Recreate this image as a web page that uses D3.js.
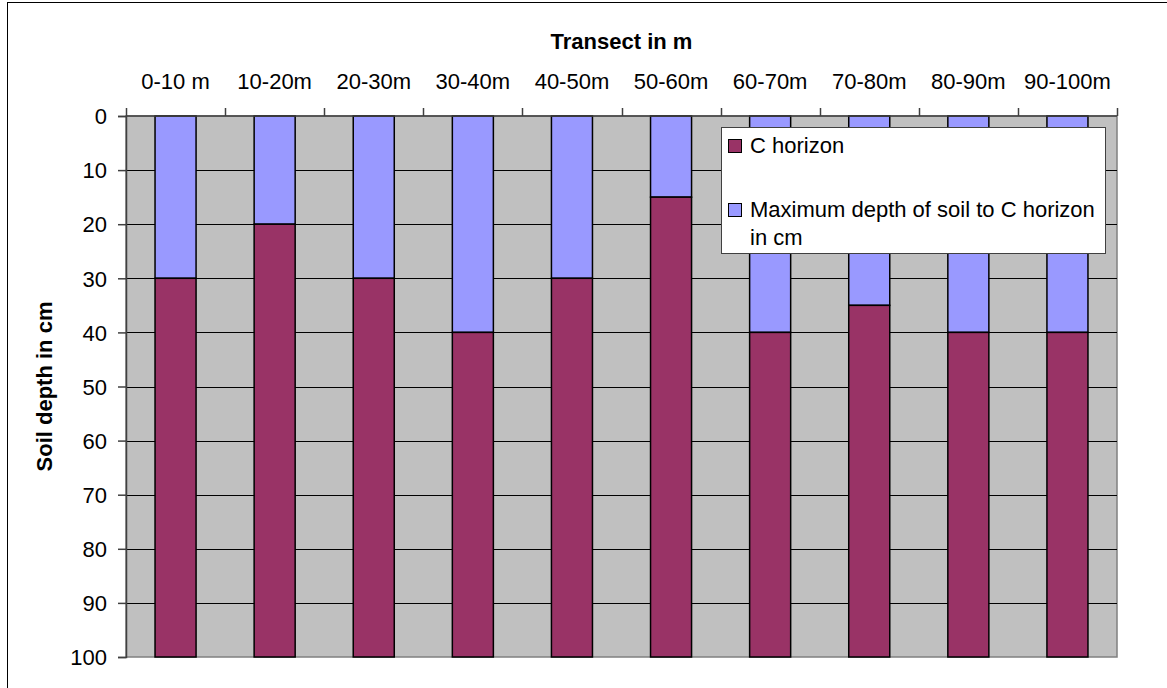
<!DOCTYPE html>
<html>
<head>
<meta charset="utf-8">
<script src="https://cdn.jsdelivr.net/npm/d3@7"></script>
<style>
  html, body { margin: 0; padding: 0; background: #fff; }
  svg { display: block; }
  text { font-family: "Liberation Sans", Arial, sans-serif; fill: #000; }
</style>
</head>
<body>
<svg id="chart" width="1167" height="688"></svg>
<script>
// Transect segments along the slope
const segments = ["0-10 m", "10-20m", "20-30m", "30-40m", "40-50m", "50-60m", "60-70m", "70-80m", "80-90m", "90-100m"];
// Depth (cm) at which the C horizon begins in each segment
const soilDepth = [30, 20, 30, 40, 30, 15, 40, 35, 40, 40];
// Bottom of the profile (cm)
const profileBottom = [100, 100, 100, 100, 100, 100, 100, 100, 100, 100];
const depthTicks = [0, 10, 20, 30, 40, 50, 60, 70, 80, 90, 100];
const seriesNames = ["C horizon", "Maximum depth of soil to C horizon", "in cm"];

const colBlue = "#9999ff", colMaroon = "#993366";
const fs = 22;

const svg = d3.select("#chart");
const plot = { left: 126, right: 1117, top: 116, bottom: 657 };

// outer frame
svg.append("rect").attr("x", 7.5).attr("y", 2.5).attr("width", 1200).attr("height", 800)
  .attr("fill", "none").attr("stroke", "#000").attr("stroke-width", 1);

const x = d3.scaleBand().domain(segments).range([plot.left, plot.right]).paddingInner(0.586).paddingOuter(0.293);
const band = d3.scaleBand().domain(segments).range([plot.left, plot.right]);
const y = d3.scaleLinear().domain([0, 100]).range([plot.top, plot.bottom]);

// plot background
svg.append("rect").attr("x", plot.left).attr("y", plot.top)
  .attr("width", plot.right - plot.left).attr("height", plot.bottom - plot.top)
  .attr("fill", "#c0c0c0").attr("stroke", "#808080").attr("stroke-width", 1.5);

// horizontal gridlines
svg.append("g").selectAll("line").data(depthTicks.slice(1, -1)).join("line")
  .attr("x1", plot.left).attr("x2", plot.right)
  .attr("y1", d => Math.round(y(d)) + 0.5).attr("y2", d => Math.round(y(d)) + 0.5)
  .attr("stroke", "#000").attr("stroke-width", 1);

// soil above the C horizon
svg.append("g").selectAll("rect").data(segments).join("rect")
  .attr("x", d => x(d)).attr("width", x.bandwidth())
  .attr("y", y(0)).attr("height", (d, i) => y(soilDepth[i]) - y(0))
  .attr("fill", colBlue).attr("stroke", "#000").attr("stroke-width", 1.5);

// C horizon
svg.append("g").selectAll("rect").data(segments).join("rect")
  .attr("x", d => x(d)).attr("width", x.bandwidth())
  .attr("y", (d, i) => y(soilDepth[i])).attr("height", (d, i) => y(profileBottom[i]) - y(soilDepth[i]))
  .attr("fill", colMaroon).attr("stroke", "#000").attr("stroke-width", 1.5);

// left axis
const yAxis = d3.axisLeft(y).tickValues(depthTicks).tickSize(8).tickPadding(11).tickFormat(d3.format("d"));
const gy = svg.append("g").attr("transform", `translate(${plot.left},0)`).call(yAxis);
gy.select(".domain").attr("stroke", "#404040").attr("stroke-width", 1.5);
gy.selectAll(".tick line").attr("stroke", "#404040").attr("stroke-width", 1.5);
gy.selectAll(".tick text").attr("font-size", fs).attr("font-family", "Liberation Sans, Arial, sans-serif").attr("dy", "0.35em");

// top axis with band boundaries as ticks
const topTicks = segments.map(d => band(d)).concat([plot.right]);
svg.append("g").selectAll("line").data(topTicks).join("line")
  .attr("x1", d => Math.round(d) + 0.5).attr("x2", d => Math.round(d) + 0.5)
  .attr("y1", plot.top - 8).attr("y2", plot.top)
  .attr("stroke", "#404040").attr("stroke-width", 1.5);
svg.append("line").attr("x1", plot.left).attr("x2", plot.right).attr("y1", plot.top).attr("y2", plot.top)
  .attr("stroke", "#404040").attr("stroke-width", 1.5);
svg.append("g").selectAll("text").data(segments).join("text")
  .attr("x", d => band(d) + band.bandwidth() / 2).attr("y", 89)
  .attr("text-anchor", "middle").attr("font-size", fs)
  .text(d => d);

// axis titles
svg.append("text").attr("x", (plot.left + plot.right) / 2).attr("y", 49)
  .attr("text-anchor", "middle").attr("font-size", fs).attr("font-weight", "bold")
  .text("Transect in m");
svg.append("text").attr("transform", `translate(52,${(plot.top + plot.bottom) / 2}) rotate(-90)`)
  .attr("text-anchor", "middle").attr("font-size", fs).attr("font-weight", "bold")
  .text("Soil depth in cm");

// legend
const lg = svg.append("g").attr("transform", "translate(721,127)");
lg.append("rect").attr("x", 0.5).attr("y", 0.5).attr("width", 384).attr("height", 126)
  .attr("fill", "#fff").attr("stroke", "#404040").attr("stroke-width", 1);
const items = [
  { color: colMaroon, lines: [seriesNames[0]], sy: 12 },
  { color: colBlue, lines: [seriesNames[1], seriesNames[2]], sy: 76 }
];
items.forEach(it => {
  lg.append("rect").attr("x", 7.5).attr("y", it.sy + 0.5).attr("width", 13).attr("height", 13)
    .attr("fill", it.color).attr("stroke", "#000").attr("stroke-width", 1);
  it.lines.forEach((t, j) => {
    lg.append("text").attr("x", 29).attr("y", it.sy + 14 + j * 28)
      .attr("font-size", fs).text(t);
  });
});
</script>
</body>
</html>
